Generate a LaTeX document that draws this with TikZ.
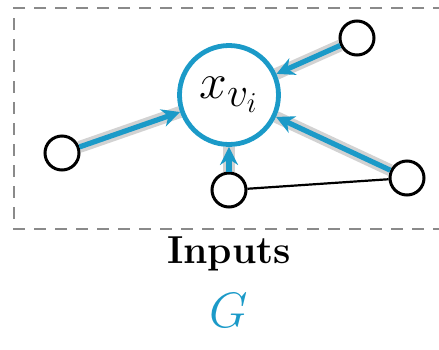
\documentclass[tikz,border=0pt]{standalone}
\usepackage{amsmath,amssymb}
\usepackage{xcolor}
\definecolor{gnnblue}{HTML}{1B9AC8}
\definecolor{halogray}{HTML}{D2D2D2}
\definecolor{framegray}{HTML}{8A8A8A}
\usetikzlibrary{arrows.meta,backgrounds}
\tikzset{
  vnode/.style={circle, draw=gnnblue, fill=white, line width=2.4pt,
                minimum size=49.5pt, inner sep=0pt},
  nnode/.style={circle, draw=black, fill=white, line width=1.5pt,
                minimum size=17pt, inner sep=0pt},
  halo/.style={draw=halogray, line width=6pt},
  msg/.style={-{Stealth[length=9pt,width=9pt]}, draw=gnnblue, line width=2.6pt},
  link/.style={draw=black, line width=1.1pt},
  frame/.style={draw=framegray, line width=1.4pt, dash pattern=on 6pt off 4.5pt},
}
\begin{document}
\begin{tikzpicture}[x=0.5pt, y=-0.5pt]
  \useasboundingbox (0,0) rectangle (439,349);
  \draw[frame] (445,8) -- (14,8) -- (14,229) -- (445,229);

  \node[vnode] (vi) at (229,95) {\fontsize{30}{34}\selectfont$x_{v_i}$};
  \node[nnode] (ntop) at (357,38) {};
  \node[nnode] (nleft) at (62,153) {};
  \node[nnode] (nbot) at (229,190) {};
  \node[nnode] (nright) at (407,178) {};

  \begin{scope}[on background layer, transform canvas={shift={(0.6pt,1pt)}}]
    \draw[halo] (ntop) -- (vi);
    \draw[halo] (nleft) -- (vi);
    \draw[halo] (nbot) -- (vi);
    \draw[halo] (nright) -- (vi);
  \end{scope}

  \draw[link] (nbot) -- (nright);
  \draw[msg] (ntop) -- (vi);
  \draw[msg] (nleft) -- (vi);
  \draw[msg] (nbot) -- (vi);
  \draw[msg] (nright) -- (vi);

  \node[anchor=base] (inputs) at (229,263) {\fontsize{19.5}{22}\selectfont\bfseries Inputs};
  \node[anchor=base, text=gnnblue] (graph) at (229,327) {\fontsize{28}{32}\selectfont$G$};
\end{tikzpicture}
\end{document}
